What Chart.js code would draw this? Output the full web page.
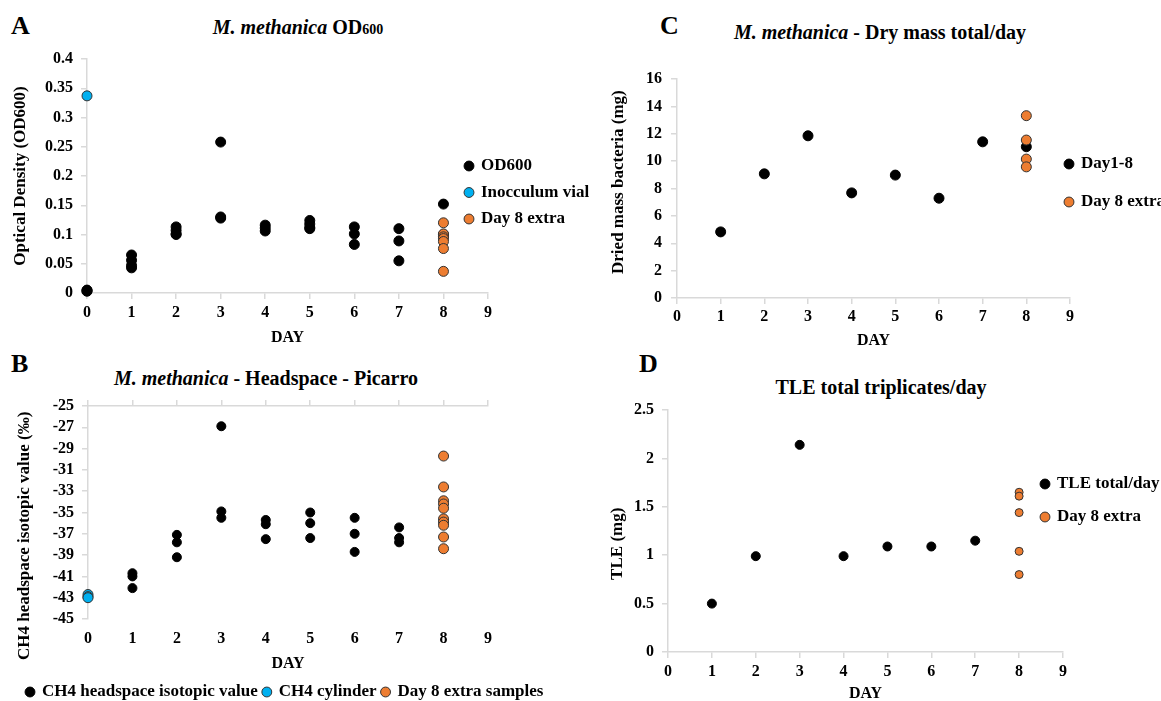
<!DOCTYPE html>
<html>
<head>
<meta charset="utf-8">
<script src="https://cdn.jsdelivr.net/npm/chart.js@4.4.1/dist/chart.umd.min.js"></script>
<style>
  body { margin: 0; background: #fff; width: 1161px; height: 701px; overflow: hidden; position: relative;
         font-family: "Liberation Serif", "Times New Roman", serif; font-weight: bold; color: #000; }
  canvas { position: absolute; }
  .letter { position: absolute; font-size: 26px; line-height: 26px; }
  .title { position: absolute; font-size: 20px; line-height: 20px; white-space: nowrap; transform: translateX(-50%); }
  .title small { font-size: 14px; }
</style>
</head>
<body>
<div class="letter" style="left:11px;top:13px">A</div>
<div class="title" style="left:298px;top:17px"><i>M. methanica</i> OD<small>600</small></div>
<div class="letter" style="left:11px;top:351px">B</div>
<div class="title" style="left:266px;top:368px"><i>M. methanica</i> - Headspace - Picarro</div>
<div class="letter" style="left:660px;top:13px">C</div>
<div class="title" style="left:880px;top:22px"><i>M. methanica</i> - Dry mass total/day</div>
<div class="letter" style="left:639px;top:351px">D</div>
<div class="title" style="left:881px;top:377px">TLE total triplicates/day</div>

<canvas id="chartA" width="600" height="307" style="left:0;top:40px"></canvas>
<canvas id="chartB" width="600" height="341" style="left:0;top:360px"></canvas>
<canvas id="chartC" width="581" height="310" style="left:580px;top:40px"></canvas>
<canvas id="chartD" width="581" height="345" style="left:580px;top:358px"></canvas>

<script>
// A - OD600
const odDays = [0, 0, 0, 1, 1, 1, 1, 2, 2, 2, 2, 3, 3, 3, 4, 4, 4, 5, 5, 5, 5, 6, 6, 6, 7, 7, 7, 8, 8, 8];
const odValues = [0.003, 0.004, 0.005, 0.065, 0.056, 0.047, 0.043, 0.113, 0.107, 0.101, 0.100,
  0.258, 0.130, 0.128, 0.116, 0.111, 0.106, 0.124, 0.118, 0.112, 0.110, 0.113, 0.101, 0.083,
  0.110, 0.089, 0.055, 0.152, 0.100, 0.097];
const inocDays = [0];
const inocValues = [0.337];
const odExtraDays = [8, 8, 8, 8, 8, 8, 8];
const odExtraValues = [0.120, 0.101, 0.096, 0.093, 0.088, 0.076, 0.037];

// B - headspace CH4 isotopic value (permil)
const ch4Days = [1, 1, 1, 2, 2, 2, 3, 3, 3, 4, 4, 4, 5, 5, 5, 6, 6, 6, 7, 7, 7, 8, 8];
const ch4Values = [-40.7, -41.0, -42.1, -37.1, -37.8, -39.2, -26.9, -34.9, -35.5, -35.7, -36.1, -37.5,
  -35.0, -36.0, -37.4, -35.5, -37.0, -38.7, -36.4, -37.4, -37.8, -35.7, -36.0];
const cylDays = [0, 0, 0];
const cylValues = [-42.7, -42.9, -43.0];
const ch4ExtraDays = [8, 8, 8, 8, 8, 8, 8, 8, 8, 8];
const ch4ExtraValues = [-29.7, -32.6, -33.9, -34.2, -34.6, -35.6, -35.9, -36.2, -37.3, -38.4];

// C - dry mass (mg)
const massDays = [1, 2, 3, 4, 5, 6, 7, 8];
const massValues = [4.83, 9.07, 11.85, 7.68, 8.98, 7.29, 11.41, 11.05];
const massExtraDays = [8, 8, 8, 8];
const massExtraValues = [13.32, 11.54, 10.15, 9.58];

// D - TLE (mg)
const tleDays = [1, 2, 3, 4, 5, 6, 7];
const tleValues = [0.50, 0.99, 2.14, 0.99, 1.09, 1.09, 1.15];
const tleExtraDays = [8, 8, 8, 8, 8];
const tleExtraValues = [1.65, 1.61, 1.44, 1.04, 0.80];

Chart.defaults.font.family = '"Liberation Serif", "Times New Roman", serif';
Chart.defaults.font.weight = 'bold';
Chart.defaults.color = '#000';
Chart.defaults.animation = false;

const GRAY = '#d9d9d9';
const ORANGE = '#ED7D31';
const BLUE = '#00B0F0';
const NBSP = '\u00a0';

const pts = (xs, ys) => xs.map((x, i) => ({ x, y: ys[i] }));
const num = v => String(Math.round(v * 100) / 100);

// moves the legend so its first marker sits at (x, y) without touching the chart area
const legendSpot = {
  id: 'legendSpot',
  afterLayout(chart, args, o) {
    const lg = chart.legend;
    lg.left = o.x - o.pad - 3.5;
    lg.top = o.y - o.pad - 8.5;
    lg.right = chart.width;
    lg.bottom = chart.height;
  }
};

const legendCfg = (position, pad) => ({
  position,
  align: 'start',
  maxHeight: 28,
  labels: {
    usePointStyle: true, boxWidth: 7, boxHeight: 7, padding: pad, color: '#000',
    font: { size: 17, weight: 'bold' },
    sort: (a, b) => a.datasetIndex - b.datasetIndex
  }
});

const series = (label, data, fill, border, r, order) => ({
  label, data, backgroundColor: fill, borderColor: border, borderWidth: 1,
  pointRadius: r, pointHoverRadius: r, order, clip: false
});

const xAxis = (height, pad) => ({
  type: 'linear', min: 0, max: 9,
  ticks: { stepSize: 1, padding: pad, autoSkip: false, font: { size: 16, weight: 'bold' } },
  grid: { drawOnChartArea: false, color: GRAY, lineWidth: 1.5, tickLength: 6 },
  border: { color: GRAY, width: 1.5 },
  title: { display: true, text: 'DAY', font: { size: 16, weight: 'bold' }, padding: 0 },
  afterFit: s => { s.height = height; }
});

const yAxis = (min, max, step, text, width, titlePad, tickPad) => ({
  type: 'linear', min, max,
  ticks: { stepSize: step, padding: tickPad, autoSkip: false, callback: num, font: { size: 16, weight: 'bold' } },
  grid: { drawOnChartArea: false, color: GRAY, lineWidth: 1.5, tickLength: 6 },
  border: { color: GRAY, width: 1.5 },
  title: { display: true, text, font: { size: 17, weight: 'bold' }, padding: { top: titlePad, bottom: 0 } },
  afterFit: s => { s.width = width; }
});

const baseOptions = (padding, scales, legend, spot) => ({
  responsive: false,
  layout: { padding },
  scales,
  plugins: { legend, legendSpot: spot, tooltip: { enabled: false } }
});

new Chart(document.getElementById('chartA'), {
  type: 'scatter',
  data: {
    datasets: [
      series('OD600', pts(odDays, odValues), '#000', '#000', 5, 3),
      series('Inocculum vial', pts(inocDays, inocValues), BLUE, '#333', 5, 2),
      series('Day 8 extra', pts(odExtraDays, odExtraValues), ORANGE, '#333', 5, 1)
    ]
  },
  options: baseOptions(
    { top: 19, right: 112, bottom: 0, left: 0 },
    { x: xAxis(54, 4), y: yAxis(0, 0.4, 0.05, 'Optical Density (OD600)', 87, 10, 8) },
    legendCfg('chartArea', 9.5),
    { x: 469, y: 126, pad: 9.5 }
  ),
  plugins: [legendSpot]
});

const xB = xAxis(54, 10);
xB.grid = { display: false, drawTicks: false };
xB.border = { display: false };

new Chart(document.getElementById('chartB'), {
  type: 'scatter',
  data: {
    datasets: [
      series('CH4 headspace isotopic value', pts(ch4Days, ch4Values), '#000', '#000', 4.5, 3),
      series('CH4 cylinder', pts(cylDays, cylValues), BLUE, '#333', 5, 2),
      series('Day 8 extra samples', pts(ch4ExtraDays, ch4ExtraValues), ORANGE, '#333', 5, 1)
    ]
  },
  options: baseOptions(
    { top: 40, right: 112, bottom: 0, left: 0 },
    {
      x: xB,
      x2: {
        type: 'linear', position: 'top', min: 0, max: 9,
        ticks: { display: false, stepSize: 1 },
        grid: { drawOnChartArea: false, color: GRAY, lineWidth: 1.5, tickLength: 6 },
        border: { color: GRAY, width: 1.5 },
        afterFit: s => { s.height = 6; }
      },
      // trailing spaces push the title down a little, as in the original
      y: yAxis(-45, -25, 2, 'CH4 headspace isotopic value (‰)' + NBSP.repeat(11), 88, 14, 8)
    },
    legendCfg('bottom', 5.5),
    { x: 30, y: 332, pad: 5.5 }
  ),
  plugins: [legendSpot]
});

new Chart(document.getElementById('chartC'), {
  type: 'scatter',
  data: {
    datasets: [
      series('Day1-8', pts(massDays, massValues), '#000', '#000', 5, 2),
      series('Day 8 extra', pts(massExtraDays, massExtraValues), ORANGE, '#333', 5, 1)
    ]
  },
  options: baseOptions(
    { top: 39, right: 91, bottom: 0, left: 0 },
    { x: xAxis(52, 3), y: yAxis(0, 16, 2, NBSP.repeat(3) + 'Dried mass bacteria (mg)', 97, 28, 9) },
    legendCfg('chartArea', 21),
    { x: 489, y: 124, pad: 21 }
  ),
  plugins: [legendSpot]
});

new Chart(document.getElementById('chartD'), {
  type: 'scatter',
  data: {
    datasets: [
      series('TLE total/day', pts(tleDays, tleValues), '#000', '#000', 4.5, 2),
      series('Day 8 extra', pts(tleExtraDays, tleExtraValues), ORANGE, '#333', 4, 1)
    ]
  },
  options: baseOptions(
    { top: 52, right: 98, bottom: 0, left: 0 },
    { x: xAxis(51, 4), y: yAxis(0, 2.5, 0.5, 'TLE (mg)' + NBSP.repeat(6), 88, 27, 8) },
    legendCfg('chartArea', 16),
    { x: 465, y: 126, pad: 16 }
  ),
  plugins: [legendSpot]
});
</script>
</body>
</html>
